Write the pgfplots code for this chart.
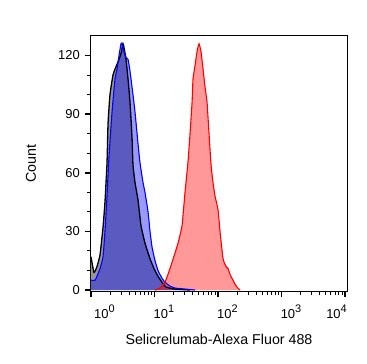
\documentclass[border=0pt]{standalone}
\usepackage{pgfplots}
\pgfplotsset{compat=1.18}
\usepackage{pgfplotstable}
\usepackage{fontspec}
\setmainfont{Liberation Sans}
\definecolor{fillgray}{RGB}{150,150,150}
\newcommand{\tp}[1]{10\raisebox{0.42em}{\fontsize{11}{12}\selectfont #1}}

% x in decades (log10 of intensity), y = count
\pgfplotstableread{
x y
0.000 17
0.047 9
0.094 12
0.142 18
0.189 32
0.220 45
0.252 65
0.268 85
0.299 100
0.346 110
0.378 113
0.441 118
0.472 121
0.504 126
0.520 124
0.551 118
0.583 108
0.614 96
0.646 78
0.661 64
0.693 55
0.740 46
0.787 33
0.850 24
0.929 16
0.992 11
1.055 7
1.118 4
1.181 1.5
1.323 0.5
1.559 0
}\black

\pgfplotstableread{
x y
0.000 5
0.063 5
0.094 7
0.142 11
0.189 17
0.220 30
0.252 48
0.283 68
0.331 91
0.378 108
0.409 113
0.441 120
0.472 126
0.488 126
0.520 122
0.551 119
0.583 118
0.614 112
0.661 100
0.693 91
0.740 75
0.772 65
0.819 55
0.850 50
0.898 40
0.929 30
0.961 22
1.008 15
1.055 10
1.118 6
1.165 4
1.244 2
1.323 1
1.480 0.5
1.638 0
}\blue

\pgfplotstableread{
x y
1.008 0
1.087 1
1.165 4
1.244 11
1.323 19
1.370 24
1.433 33
1.480 50
1.528 66
1.559 80
1.591 96
1.606 108
1.638 115
1.669 122
1.701 126
1.732 122
1.764 113
1.795 104
1.827 96
1.858 80
1.890 64
1.921 55
1.953 48
2.000 41
2.031 30
2.079 16
2.126 12
2.157 11
2.189 8
2.220 6
2.268 3
2.299 1.5
2.346 0
}\red

\begin{document}
\begin{tikzpicture}
\begin{axis}[
  scale only axis,
  width=256bp, height=255bp,
  xmin=0, xmax=4.03,
  ymin=-0.5, ymax=130,
  axis line style={line width=1bp},
  tick pos=left,
  tick align=outside,
  /pgf/number format/assume math mode=true,
  xtick={0,1,2,3,4},
  xticklabels={\hspace*{4bp}\tp{0},\tp{1},\tp{2},\tp{3},\hspace*{-18bp}\tp{4}},
  minor xtick={0.301,0.477,0.602,0.699,0.778,0.845,0.903,0.954,
               1.301,1.477,1.602,1.699,1.778,1.845,1.903,1.954,
               2.301,2.477,2.602,2.699,2.778,2.845,2.903,2.954,
               3.301,3.477,3.602,3.699,3.778,3.845,3.903,3.954},
  ytick={0,30,60,90,120},
  minor ytick={10,20,40,50,70,80,100,110},
  major tick length=6bp,
  minor tick length=3.5bp,
  every major tick/.append style={line width=1.5bp, black},
  every minor tick/.append style={line width=1bp, black},
  xticklabel style={font=\fontsize{13}{15}\selectfont, anchor=north west, inner sep=0pt, yshift=-8bp, xshift=-1bp},
  yticklabel style={font=\fontsize{13}{15}\selectfont, anchor=east, inner sep=0pt, xshift=-5bp},
  xlabel={Selicrelumab-Alexa Fluor 488},
  ylabel={Count},
  xlabel style={font=\fontsize{14.3}{16}\selectfont, at={([yshift=-48bp]axis description cs:0.5,0)}, anchor=center},
  ylabel style={font=\fontsize{14.3}{16}\selectfont, at={([xshift=-60bp]axis description cs:0,0.5)}, anchor=center},
  clip=true,
]
\addplot[draw=none, fill=fillgray] table {\black} \closedcycle;
\addplot[draw=none, fill=blue, fill opacity=0.4] table {\blue} \closedcycle;
\addplot[draw=none, fill=red, fill opacity=0.4] table {\red} \closedcycle;
\addplot[black, line width=1.3bp, smooth, tension=0.3] table {\black};
\addplot[blue, line width=1.1bp, smooth, tension=0.3] table {\blue};
\addplot[red, line width=1.1bp, smooth, tension=0.3] table {\red};
\end{axis}
\pgfresetboundingbox
\path ([shift={(-91bp,-73bp)}]current axis.south west) rectangle ([shift={(20bp,36bp)}]current axis.north east);
\end{tikzpicture}
\end{document}
